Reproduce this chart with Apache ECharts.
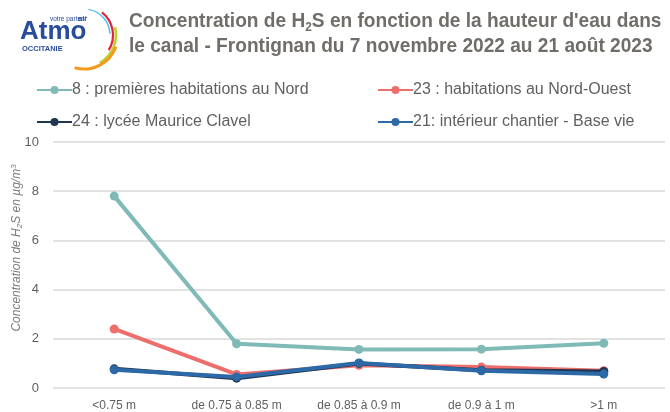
<!DOCTYPE html>
<html>
<head>
<meta charset="utf-8">
<script src="https://cdn.jsdelivr.net/npm/echarts@6/dist/echarts.min.js"></script>
<style>
  html, body { margin: 0; padding: 0; background: #fff; }
  #chart { width: 670px; height: 412px; }
</style>
</head>
<body>
<div id="chart"></div>
<script>
// categories (hauteur d'eau)
const categories = ['<0.75 m', 'de 0.75 à 0.85 m', 'de 0.85 à 0.9 m', 'de 0.9 à 1 m', '>1 m'];

// séries par site
const siteNames = [
  '8 : premières habitations au Nord',
  '23 : habitations au Nord-Ouest',
  '24 : lycée Maurice Clavel',
  '21: intérieur chantier - Base vie'
];
const site8 = [7.8, 1.8, 1.57, 1.58, 1.82];
const site23 = [2.4, 0.55, 0.92, 0.85, 0.7];
const site24 = [0.78, 0.4, 1.0, 0.72, 0.67];
const site21 = [0.74, 0.45, 1.02, 0.7, 0.57];
const colors = ['#7fbab6', '#ee6e6b', '#1f3650', '#2c69a6'];

const yTicks = { min: 0, max: 10, interval: 2 };

const font = '"Liberation Sans", Arial, sans-serif';
const grey = '#5f5f5f';
const titleGrey = '#716d68';
const logoBlue = '#2a4d9b';

const chart = echarts.init(document.getElementById('chart'));

const seriesData = [site8, site23, site24, site21];
const series = seriesData.map((d, i) => ({
  name: siteNames[i],
  type: 'line',
  data: d,
  symbol: 'circle',
  symbolSize: 9,
  lineStyle: { width: 4, color: colors[i] },
  itemStyle: { color: colors[i] },
  z: 2 + i
}));

// une légende par entrée pour placer les colonnes
const legendPos = [
  { left: 31, top: 77 },
  { left: 372, top: 77 },
  { left: 31, top: 109 },
  { left: 372, top: 109 }
];
const legends = siteNames.map((n, i) => ({
  data: [n],
  left: legendPos[i].left,
  top: legendPos[i].top,
  itemWidth: 35,
  itemHeight: 10,
  itemGap: 0,
  textStyle: { color: grey, fontSize: 16, fontFamily: font, padding: [0, 0, 0, -5] }
}));

const option = {
  animation: false,
  backgroundColor: '#fff',
  legend: legends,
  grid: { left: 53, right: 5, top: 142, bottom: 23 },
  xAxis: {
    type: 'category',
    data: categories,
    axisLine: { show: false },
    axisTick: { show: false },
    axisLabel: { color: grey, fontSize: 12, fontFamily: font, margin: 12, interval: 0 }
  },
  yAxis: {
    type: 'value',
    min: yTicks.min,
    max: yTicks.max,
    interval: yTicks.interval,
    axisLabel: { color: grey, fontSize: 13, fontFamily: font, margin: 14 },
    splitLine: { lineStyle: { color: '#d9d9d9', width: 1.5 } }
  },
  series: series,
  graphic: [
    // titre
    {
      type: 'text',
      x: 129, y: 9,
      scaleX: 0.91,
      style: {
        text: '{t|Concentration de H}{s|2}{t|S en fonction de la hauteur d\'eau dans}',
        rich: {
          t: { fontSize: 21, fontWeight: 'bold', fill: titleGrey, fontFamily: font },
          s: { fontSize: 13, fontWeight: 'bold', fill: titleGrey, fontFamily: font, padding: [12, 0, 0, 0] }
        }
      }
    },
    {
      type: 'text',
      x: 129, y: 36,
      scaleX: 0.91,
      style: {
        text: 'le canal - Frontignan du 7 novembre 2022 au 21 août 2023',
        fontSize: 21, fontWeight: 'bold', fill: titleGrey, fontFamily: font
      }
    },
    // titre de l'axe Y
    {
      type: 'text',
      x: 17, y: 248,
      rotation: Math.PI / 2,
      style: {
        text: '{a|Concentration de H}{b|2}{a|S en µg/m}{c|3}',
        align: 'center',
        verticalAlign: 'middle',
        rich: {
          a: { fontSize: 12, fontStyle: 'italic', fill: '#7a7a7a', fontFamily: font },
          b: { fontSize: 8, fontStyle: 'italic', fill: '#7a7a7a', fontFamily: font, padding: [6, 0, 0, 0] },
          c: { fontSize: 8, fontStyle: 'italic', fill: '#7a7a7a', fontFamily: font, padding: [0, 0, 6, 0] }
        }
      }
    },
    // logo Atmo Occitanie
    { type: 'text', x: 20, y: 19, style: { text: 'Atmo', fontSize: 26, fontWeight: 'bold', fill: logoBlue, fontFamily: font } },
    { type: 'text', x: 50, y: 16, style: { text: 'votre parten\'', fontSize: 6.5, fill: logoBlue, fontFamily: font } },
    { type: 'text', x: 78, y: 15, style: { text: 'air', fontSize: 7.5, fontWeight: 'bold', fill: logoBlue, fontFamily: font } },
    { type: 'text', x: 22, y: 45, style: { text: 'OCCITANIE', fontSize: 7.5, fontWeight: 'bold', fill: logoBlue, fontFamily: font } },
    { type: 'arc', shape: { cx: 84, cy: 35, r: 26, startAngle: -1.4, endAngle: -0.05 }, style: { stroke: '#4cc3ee', lineWidth: 1.5, fill: null } },
    { type: 'arc', shape: { cx: 84, cy: 35, r: 29, startAngle: -0.9, endAngle: 0.55 }, style: { stroke: '#e1233d', lineWidth: 2.2, fill: null } },
    { type: 'arc', shape: { cx: 84, cy: 35, r: 32, startAngle: -0.25, endAngle: 1.05 }, style: { stroke: '#b9d331', lineWidth: 2.6, fill: null } },
    { type: 'arc', shape: { cx: 84, cy: 35, r: 34, startAngle: 0.35, endAngle: 1.85 }, style: { stroke: '#f59a1e', lineWidth: 3, fill: null } }
  ]
};

chart.setOption(option);
</script>
</body>
</html>
